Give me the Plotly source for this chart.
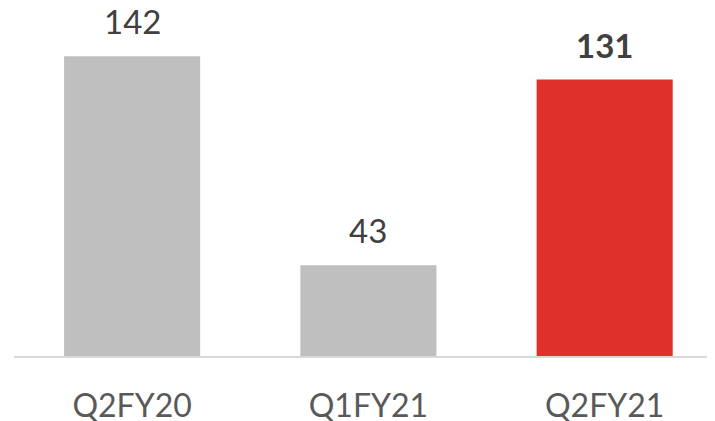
import plotly.graph_objects as go

categories = ["Q2FY20", "Q1FY21", "Q2FY21"]
values = [142, 43, 131]
labels = ["142", "43", "<b>131</b>"]
colors = ["#bfbfbf", "#bfbfbf", "#e0302a"]

FONT = "Lato, Open Sans, sans-serif"

fig = go.Figure(go.Bar(x=categories, y=values, marker_color=colors, width=0.576,
                       marker_line_width=0, hoverinfo="skip"))

for c, v, t in zip(categories, values, labels):
    fig.add_annotation(x=c, y=v, text=t, showarrow=False, yanchor="bottom", yshift=13,
                       font=dict(family=FONT, size=33, color="#404040"))

fig.update_layout(
    width=707, height=413,
    margin=dict(l=6, r=0, t=0, b=65),
    plot_bgcolor="white", paper_bgcolor="white",
    showlegend=False,
    xaxis=dict(range=[-0.5, 2.467], showline=True, linecolor="#d9d9d9", linewidth=2,
               showgrid=False, ticks="", ticklabelstandoff=21, automargin=False,
               tickfont=dict(family=FONT, size=32, color="#595959")),
    yaxis=dict(range=[0, 164.9], visible=False, showgrid=False, zeroline=False,
               automargin=False),
)

fig.write_html("out.html")
